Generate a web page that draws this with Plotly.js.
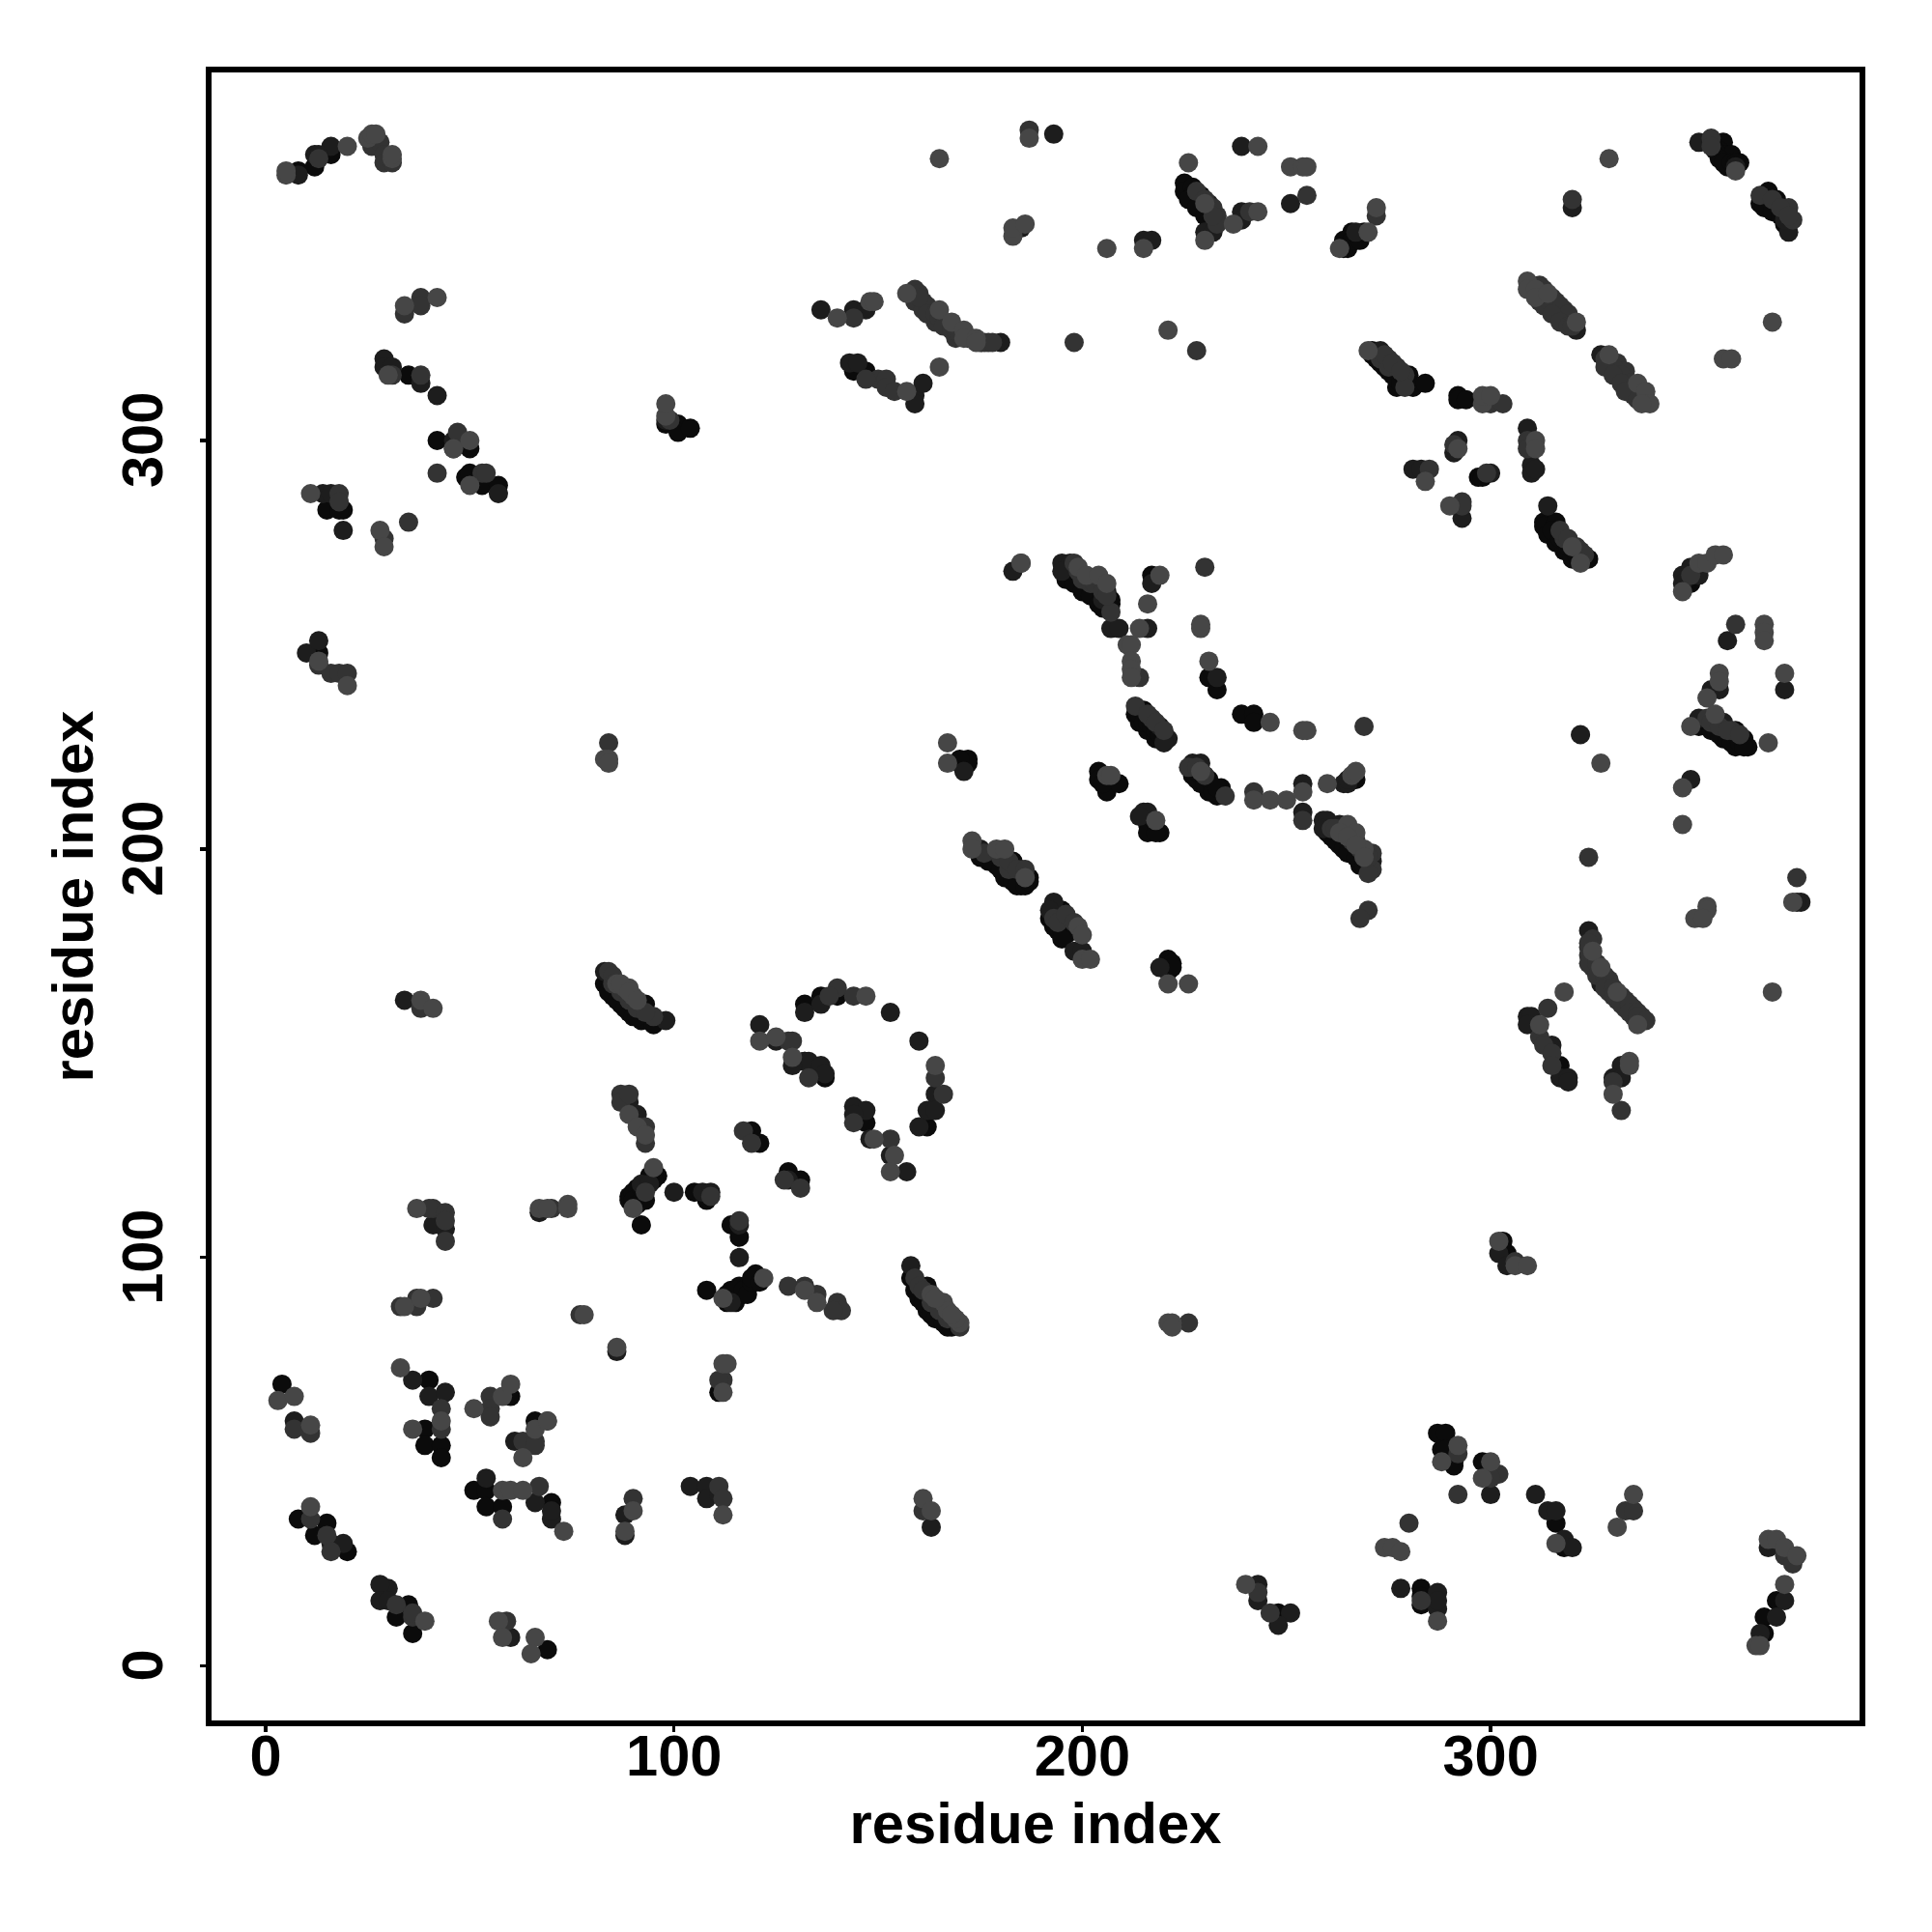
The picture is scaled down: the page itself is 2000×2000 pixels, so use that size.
<!DOCTYPE html>
<html><head><meta charset="utf-8">
<script src="https://cdn.plot.ly/plotly-3.0.1.min.js"></script>
<style>html,body{margin:0;padding:0;background:#fff}</style></head>
<body><div id="chart" style="width:2000px;height:2000px"></div>
<script>
const tickValues=[0,100,200,300];
const axisLabel="residue index";
const shadeColors=["#0b0b0b","#1d1d1d","#333333","#464646"];
const contactsDarkest=[[8,366],[12,367],[16,370],[35,316],[42,300],[50,298],[49,291],[50,292],[53,289],[57,289],[15,283],[19,283],[18,283],[98,304],[101,304],[101,302],[104,303],
[144,317],[147,317],[225,363],[225,361],[227,362],[227,360],[229,358],[231,356],[229,360],[265,347],[265,349],[267,349],[266,351],[357,373],[356,371],[357,370],[359,370],[358,367],[361,368],[366,358],[368,361],[368,358],[370,359],[370,356],
[280,316],[281,313],[284,314],[277,313],[271,322],[292,311],[292,310],[294,310],[297,291],[298,291],[313,280],[313,279],[316,280],[314,277],[316,275],[318,273],[320,271],[324,271],[349,265],[351,230],[357,229],[357,227],[360,229],[360,227],[362,227],[360,225],[363,225],
[13,248],[83,167],[85,164],[87,162],[89,160],[93,162],[92,158],[95,157],[162,93],[159,92],[160,90],[162,87],[165,85],[158,95],[167,83],[303,104],[304,101],[248,13],[283,19],[283,17],[283,15],[287,57],[289,57],[288,53],[289,53],[291,50],[291,49],[298,50],[299,47],[316,35],[318,29],[370,16],[367,12],[367,8],
[4,69],[40,70],[39,58],[39,54],[43,54],[43,51],[60,66],[66,60],[51,43],[54,43],[54,39],[58,39],[70,40],[8,36],[15,35],[12,32],[20,28],[35,15],[32,12],[36,8],[69,4],
[96,120],[94,119],[91,117],[91,115],[89,115],[90,113],[89,114],[92,108],[93,117],[105,116],[108,114],[114,108],[116,105],[108,92],[114,92],[116,91],[116,93],[118,93],[120,96],[120,94],[115,89],
[132,162],[136,164],[140,164],[162,132],[137,144],[147,133],[119,131],[121,128],[128,121],[131,119],[111,67],
[199,267],[201,265],[203,263],[207,260],[207,261],[217,267],[231,242],[233,239],[239,233],[242,233],[242,231],[170,221],[172,222],[172,221],[170,222],
[213,233],[215,234],[214,231],[216,229],[218,227],[227,218],[231,217],[229,216],[231,214],[234,215],[233,213],[204,219],[204,217],[206,214],[209,216],[205,216],[216,206],[216,204],[219,204],[218,204],
[197,268],[267,217],[261,203],[263,201],[266,199],[268,196],[175,198],[179,196],[183,197],[181,193],[184,192],[187,193],[185,191],[181,196],[192,183],[194,180],[195,185],[195,184],[197,182],[196,179],[221,173],[222,172],[221,170],[222,171],[317,147],[132,148]];
const bandRimDark=[[271,321],[272,320],[273,319],[274,318],[275,317],[276,316],[277,315],[278,314],[315,278],[317,276],[319,274],[321,272],[84,165],[86,163],[88,161],[90,159],[91,159],[161,89],[163,86],[164,85],[166,84],[168,83],[196,266],[198,265],[200,263],[202,262],[204,260],[205,259],[226,359],[228,357],[230,355],[231,354],[232,352],[355,371],[356,369],[357,368],[359,368],[360,368],[367,357],[369,356],[371,355],[372,353],[214,233],[215,231],[216,231],[217,230],[218,229],[219,228],[220,227],[228,217],[228,219],[230,216],[230,218],[232,215],[232,214],[233,215],[260,204],[262,202],[264,200],[265,199],[267,198],[269,196],[354,229],[355,229],[356,228],[358,227],[359,226],[361,226],[362,225],[177,197],[178,197],[180,195],[182,193],[183,192],[184,191],[186,191],[187,192],[193,181],[195,180],[194,184],[196,182],[197,181],[198,180],[195,178],[90,116],[92,115],[90,114],[92,117],[93,118],[95,119],[95,121],[94,120],[91,113],[93,114],[113,91],[113,89],[115,91],[115,92],[117,91],[117,92],[118,91],[119,94],[119,95],[121,94],[348,265],[348,267],[350,267],[350,268],[264,347],[264,349],[266,349],[268,349],[269,351]];
const contactsDark=[[8,365],[12,370],[16,372],[13,370],[29,320],[29,318],[31,318],[38,314],[42,311],[46,300],[57,287],[14,287],[16,287],[19,278],[98,305],
[136,332],[144,332],[147,332],[143,319],[145,319],[159,311],[159,309],[161,314],[180,324],[185,352],[215,349],[217,349],[193,375],[231,358],[230,351],[232,351],[239,356],[239,354],[239,372],[251,358],[267,351],[351,373],[360,367],[373,351],[372,354],[320,357],[321,327],[327,321],[273,322],[292,300],[291,297],[309,303],[310,294],[310,292],[311,293],[300,292],[281,293],[283,293],[293,281],[314,284],
[347,267],[349,269],[351,267],[347,265],[358,251],[354,239],[356,239],[372,239],[351,232],[355,231],[357,231],[349,217],[322,228],[376,187],[375,187],[324,180],[327,167],[309,159],[310,159],[309,157],[315,152],[317,144],[319,144],[319,143],[332,147],[330,144],[332,144],
[158,98],[163,34],[302,101],[304,98],[243,20],[243,16],[251,13],[248,10],[278,19],[287,18],[287,14],[287,16],[300,42],[311,42],[314,38],[316,38],[318,31],[320,29],[368,29],[372,16],[370,12],[366,8],[300,47],
[41,108],[44,107],[36,70],[40,66],[44,67],[61,55],[54,46],[66,40],[70,36],[70,38],[16,30],[19,30],[30,19],[28,20],[28,16],[30,16],[60,7],[7,60],[88,37],[88,32],[104,44],[108,44],[108,41],[86,77],[67,111],[10,248],[13,251],
[34,163],[83,170],[98,158],[89,138],[91,135],[100,116],[107,116],[109,116],[116,108],[116,100],[114,89],[121,157],[125,153],[132,160],[136,162],[153,160],[160,153],[164,140],[162,136],[164,136],[160,132],[132,148],[133,148],[136,147],[129,147],[137,145],[144,137],[147,136],[144,135],[148,129],[153,125],[157,121],[128,119],
[195,270],[197,270],[195,268],[204,265],[206,263],[205,261],[207,254],[209,254],[216,254],[217,265],[233,242],[171,219],[219,230],[221,227],[220,226],[227,221],[229,221],[215,209],[216,209],[214,208],[254,216],[254,209],[264,216],[265,216],[265,217],[259,207],[260,207],[259,205],[263,206],[271,197],[175,200],[185,195],[193,187],[192,185],[198,175],[200,175],[219,171],[183,268],[92,118],[94,118],[111,42]];
const contactsMid=[[13,369],[26,372],[28,373],[29,370],[29,368],[31,368],[31,316],[34,331],[38,335],[38,333],[38,316],[42,292],[46,298],[47,302],[53,292],[54,292],[18,287],[18,285],[29,276],[35,280],[99,305],
[144,330],[159,337],[160,336],[159,334],[161,334],[161,332],[163,332],[164,329],[169,325],[177,324],[150,315],[152,315],[152,313],[154,312],[147,315],[187,376],[198,324],[228,322],[233,355],[233,353],[241,356],[255,360],[272,355],[354,374],[354,372],[373,357],[374,354],[366,360],[320,359],[312,338],[314,334],[316,334],[316,332],[318,332],[318,330],[319,329],[329,319],[331,319],[331,317],[333,317],[333,314],[335,311],[275,320],[273,320],[275,318],[277,318],[279,316],[279,313],[300,309],[303,309],[291,299],[309,300],[309,298],[285,293],[293,285],[293,284],[318,276],[322,273],[299,292],
[360,255],[349,267],[353,232],[359,229],[269,230],[324,198],[375,193],[324,176],[324,174],[325,171],[329,168],[329,165],[333,163],[331,163],[333,161],[335,161],[337,159],[335,159],[314,161],[312,154],[313,152],[315,150],[315,147],[332,136],[330,143],[159,95],[160,93],[170,83],[226,84],[306,99],[161,38],[243,18],[246,13],[280,35],[292,52],[292,42],[302,47],[300,46],[333,38],[335,38],[372,27],[374,25],
[41,112],[40,112],[44,111],[44,109],[44,104],[70,112],[37,88],[33,88],[37,90],[41,90],[43,63],[43,58],[55,66],[55,63],[55,61],[69,60],[63,55],[66,55],[66,54],[58,36],[67,44],[7,58],[11,57],[90,41],[111,44],[112,41],[11,36],[15,32],[16,28],[32,15],[36,12],[36,13],[59,11],[13,245],[16,243],[18,243],[20,243],[84,226],[38,161],[84,170],[85,169],[95,159],[77,86],
[87,140],[87,138],[89,140],[93,132],[93,128],[93,116],[109,115],[116,109],[117,131],[119,128],[127,119],[131,117],[128,93],[132,93],[135,91],[140,89],[141,87],[139,87],[140,166],[138,164],[144,164],[164,144],[166,140],[128,153],[129,153],[133,144],[144,133],[153,129],
[185,270],[198,270],[207,258],[214,242],[230,269],[213,235],[217,232],[226,220],[235,213],[242,214],[254,207],[261,205],[267,202],[271,199],[271,195],[270,194],[270,185],[268,183],[193,183],[194,182],[182,195],[283,16],[112,70],[111,70]];
const bandCoreMid=[[274,321],[276,319],[278,317],[310,338],[313,337],[315,335],[317,333],[319,331],[312,334],[313,333],[315,331],[317,329],[319,328],[320,328],[328,320],[330,318],[332,316],[334,314],[336,312],[338,310],[328,318],[330,316],[332,314],[334,312],[333,312],[336,310],[317,278],[319,276],[321,274],[323,272],[85,167],[87,165],[89,163],[91,161],[93,160],[161,92],[163,89],[165,87],[167,85],[199,268],[200,266],[202,265],[203,265],[205,263],[206,262],[228,361],[230,359],[232,357],[232,355],[369,359],[371,357],[373,355],[216,233],[218,231],[220,229],[228,220],[230,218],[262,205],[264,204],[266,202],[268,200],[270,198],[354,231],[356,230],[358,229],[361,228],[325,178],[324,177],[324,172],[326,172],[326,169],[328,169],[328,166],[330,166],[330,164],[332,164],[332,162],[334,162],[334,160],[336,160],[336,158],[336,159],[338,158],[162,333],[160,335],[162,331],[164,331],[165,330],[166,328],[168,327],[169,327],[170,326],[172,325],[173,325],[175,324],[176,324],[178,324],[176,199],[180,198],[182,197],[184,195],[186,195],[196,184],[198,182]];
const contactsLight=[[5,365],[5,366],[20,372],[25,374],[26,375],[27,375],[31,369],[31,370],[30,316],[34,333],[42,335],[46,298],[50,300],[50,289],[11,287],[28,278],[29,274],[98,306],[98,309],[140,330],[148,334],[149,334],[157,336],[165,332],[168,329],[171,327],[171,325],[174,325],[174,324],[157,312],[165,318],[165,369],[187,374],[183,350],[183,352],[186,353],[206,347],[215,347],[221,327],[226,368],[230,358],[230,349],[237,353],[243,372],[243,356],[251,367],[254,367],[255,367],[263,347],[270,351],[272,357],[360,366],[329,369],[309,339],[309,337],[311,337],[311,335],[314,336],[321,329],[336,314],[338,312],[339,309],[337,309],[329,321],[270,322],[298,309],[298,311],[300,311],[292,298],[311,300],[311,298],[284,290],[290,284],[320,274],[322,270],[357,320],[359,320],[369,329],
[347,263],[351,270],[353,270],[355,272],[357,272],[367,255],[367,253],[367,251],[356,243],[356,241],[353,237],[372,243],[349,230],[355,233],[368,226],[327,221],[347,215],[347,206],[374,187],[353,186],[353,185],[350,183],[352,183],[325,175],[327,171],[331,165],[336,157],[369,165],[318,165],[312,157],[334,148],[334,147],[330,140],[163,91],[166,89],[167,87],[170,84],[169,85],[221,84],[222,84],[222,83],[302,104],[306,98],[309,98],[161,41],[163,38],[240,20],[274,29],[276,29],[278,28],[287,11],[288,50],[292,54],[300,50],[298,46],[316,30],[335,42],[331,34],[368,31],[370,31],[372,29],[375,27],[372,20],[365,5],[366,5],
[37,112],[67,112],[69,112],[74,113],[74,112],[78,86],[86,78],[34,88],[38,90],[33,73],[43,60],[36,58],[51,63],[58,66],[60,69],[66,58],[69,60],[63,51],[58,43],[60,43],[63,43],[73,33],[3,65],[7,66],[11,59],[11,39],[90,38],[88,33],[112,37],[39,11],[57,11],[58,7],[66,7],[65,3],
[13,246],[20,240],[83,222],[84,222],[84,221],[38,163],[41,161],[86,167],[88,166],[89,166],[90,164],[89,135],[91,132],[93,130],[95,122],[90,112],[122,95],[112,90],[132,92],[135,89],[147,164],[164,147],[121,153],[125,154],[129,149],[149,129],[154,125],[153,121],[112,74],[113,74],[112,67],
[199,269],[201,267],[204,267],[206,265],[214,254],[211,250],[212,250],[212,246],[212,244],[212,242],[219,267],[216,260],[229,255],[229,254],[231,246],[246,231],[254,229],[255,229],[167,226],[167,221],[206,218],[207,218],[218,207],[229,219],[242,212],[246,212],[250,212],[254,214],[260,216],[266,218],[267,219],[265,206],[267,204],[269,200],[173,202],[173,200],[179,200],[181,200],[186,193],[199,181],[200,179],[200,173],[202,173],[221,167],[226,167],[185,270],[87,167],[89,165],[91,163],[164,90],[168,86],[263,204],[265,203],[267,201],[269,198]];

function trace(pts,color){return {type:"scatter",mode:"markers",x:pts.map(p=>p[0]),y:pts.map(p=>p[1]),hoverinfo:"skip",
  marker:{color:color,size:20,line:{width:0}}};}
const data=[trace(contactsDarkest.concat(bandRimDark),shadeColors[0]),trace(contactsDark,shadeColors[1]),trace(contactsMid.concat(bandCoreMid),shadeColors[2]),trace(contactsLight,shadeColors[3])];
const labelFont={family:"Liberation Sans",size:59.5,color:"#000",weight:"bold"};
const titleFont={family:"Liberation Sans",size:59.7,color:"#000",weight:"bold"};
const common={showgrid:false,zeroline:false,showline:true,mirror:true,linecolor:"#000",linewidth:6,
  ticks:"outside",ticklen:6,tickwidth:3.3,tickcolor:"#000",tickmode:"array",tickvals:tickValues,tickfont:labelFont};
const layout={width:2000,height:2000,paper_bgcolor:"#fff",plot_bgcolor:"#fff",showlegend:false,
  margin:{l:219,r:75,t:75,b:219,pad:0},
  xaxis:Object.assign({},common,{range:[-13.25,390.35],tickangle:0,ticktext:tickValues.map(String),ticklabelstandoff:-26,title:{text:axisLabel,font:titleFont,standoff:18}}),
  yaxis:Object.assign({},common,{range:[-13.31,390.1],tickangle:-90,ticktext:tickValues.map(v=>v+"\u00A0"),ticklabelstandoff:15,title:{text:axisLabel,font:titleFont,standoff:0}})};
Plotly.newPlot("chart",data,layout,{staticPlot:true,displayModeBar:false});
</script></body></html>
